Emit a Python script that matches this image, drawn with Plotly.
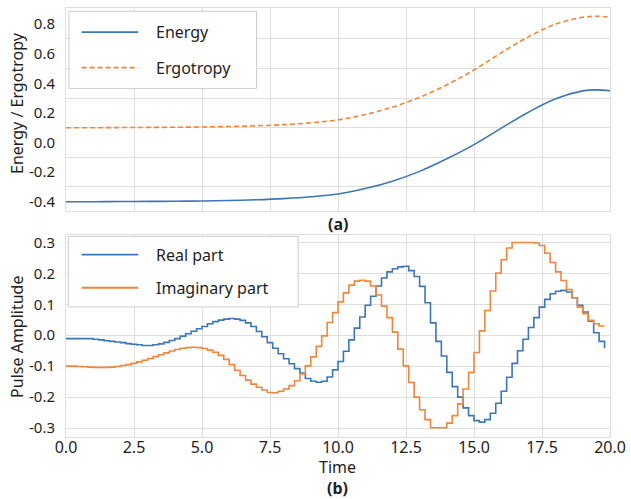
import plotly.graph_objects as go

# ---------------- data ----------------
time_top = [0, 1, 2, 3, 4, 5, 6, 7, 8, 9, 10, 11, 12, 13, 14, 15, 16, 17, 18, 19, 19.5, 20]
energy = [-0.400, -0.400, -0.399, -0.398, -0.397, -0.395, -0.392, -0.387, -0.379, -0.367, -0.348,
          -0.311, -0.261, -0.195, -0.110, -0.014, 0.097, 0.205, 0.296, 0.349, 0.356, 0.350]
ergotropy = [0.100, 0.100, 0.101, 0.102, 0.103, 0.105, 0.108, 0.113, 0.121, 0.133, 0.153,
             0.189, 0.239, 0.305, 0.390, 0.490, 0.606, 0.714, 0.800, 0.846, 0.853, 0.847]

time_pulse = [0.0, 0.2, 0.4, 0.6, 0.8, 1.0, 1.2, 1.4, 1.6, 1.8,
              2.0, 2.2, 2.4, 2.6, 2.8, 3.0, 3.2, 3.4, 3.6, 3.8,
              4.0, 4.2, 4.4, 4.6, 4.8, 5.0, 5.2, 5.4, 5.6, 5.8,
              6.0, 6.2, 6.4, 6.6, 6.8, 7.0, 7.2, 7.4, 7.6, 7.8,
              8.0, 8.2, 8.4, 8.6, 8.8, 9.0, 9.2, 9.4, 9.6, 9.8,
              10.0, 10.2, 10.4, 10.6, 10.8, 11.0, 11.2, 11.4, 11.6, 11.8,
              12.0, 12.2, 12.4, 12.6, 12.8, 13.0, 13.2, 13.4, 13.6, 13.8,
              14.0, 14.2, 14.4, 14.6, 14.8, 15.0, 15.2, 15.4, 15.6, 15.8,
              16.0, 16.2, 16.4, 16.6, 16.8, 17.0, 17.2, 17.4, 17.6, 17.8,
              18.0, 18.2, 18.4, 18.6, 18.8, 19.0, 19.2, 19.4, 19.6, 19.8]
real_part = [-0.011, -0.011, -0.011, -0.011, -0.011, -0.013, -0.015, -0.018, -0.020, -0.022,
             -0.024, -0.027, -0.029, -0.031, -0.033, -0.033, -0.031, -0.028, -0.023, -0.017,
             -0.011, -0.003, 0.005, 0.013, 0.021, 0.028, 0.037, 0.044, 0.049, 0.052,
             0.054, 0.052, 0.048, 0.040, 0.028, 0.012, -0.005, -0.024, -0.042, -0.060,
             -0.076, -0.092, -0.108, -0.122, -0.140, -0.149, -0.152, -0.149, -0.135, -0.112,
             -0.085, -0.052, -0.015, 0.023, 0.059, 0.097, 0.126, 0.159, 0.185, 0.205,
             0.215, 0.221, 0.223, 0.209, 0.190, 0.158, 0.105, 0.040, -0.020, -0.067,
             -0.120, -0.166, -0.200, -0.235, -0.260, -0.276, -0.281, -0.273, -0.252, -0.220,
             -0.181, -0.136, -0.091, -0.050, -0.013, 0.025, 0.057, 0.091, 0.116, 0.134,
             0.142, 0.145, 0.140, 0.121, 0.097, 0.075, 0.045, 0.008, -0.020, -0.042]
imag_part = [-0.100, -0.100, -0.101, -0.102, -0.103, -0.104, -0.104, -0.104, -0.103, -0.101,
             -0.098, -0.095, -0.091, -0.086, -0.081, -0.075, -0.069, -0.063, -0.057, -0.051,
             -0.046, -0.042, -0.040, -0.039, -0.040, -0.043, -0.048, -0.055, -0.065, -0.078,
             -0.095, -0.113, -0.130, -0.145, -0.158, -0.168, -0.177, -0.185, -0.186, -0.181,
             -0.174, -0.163, -0.147, -0.125, -0.099, -0.070, -0.036, -0.002, 0.041, 0.073,
             0.108, 0.137, 0.162, 0.175, 0.178, 0.175, 0.159, 0.130, 0.094, 0.057,
             0.010, -0.045, -0.099, -0.153, -0.200, -0.241, -0.273, -0.299, -0.299, -0.299,
             -0.284, -0.260, -0.222, -0.174, -0.120, -0.056, 0.014, 0.080, 0.143, 0.201,
             0.244, 0.282, 0.300, 0.300, 0.300, 0.300, 0.298, 0.290, 0.265, 0.235,
             0.205, 0.177, 0.148, 0.121, 0.091, 0.070, 0.048, 0.037, 0.030, 0.030]

x_tickvals = [0, 2.5, 5, 7.5, 10, 12.5, 15, 17.5, 20]
x_ticktext = ["0.0", "2.5", "5.0", "7.5", "10.0", "12.5", "15.0", "17.5", "20.0"]
top_tickvals = [-0.4, -0.2, 0.0, 0.2, 0.4, 0.6, 0.8]
top_ticktext = ["-0.4", "-0.2", "0.0", "0.2", "0.4", "0.6", "0.8"]
top_gridvals = [-0.3, -0.1, 0.1, 0.3, 0.5, 0.7]
bot_tickvals = [-0.3, -0.2, -0.1, 0.0, 0.1, 0.2, 0.3]
bot_ticktext = ["-0.3", "-0.2", "-0.1", "0.0", "0.1", "0.2", "0.3"]

BLUE = "#3b76b6"
ORANGE = "#f2853a"
GRID = "#dedede"
TXT = "#1e1e1e"
FONT = "Noto Sans"

# ---------------- layout geometry (px) ----------------
W, H = 631, 499
ML, MR, MT, MB = 66, 19, 5, 62
PW, PH = W - ML - MR, H - MT - MB


def fx(px):
    return (px - ML) / PW


def fy(py):
    return (H - MB - py) / PH


fig = go.Figure()
fig.add_trace(go.Scatter(x=time_top, y=energy, mode="lines", name="Energy",
                         line=dict(color=BLUE, width=1.6, shape="spline"),
                         xaxis="x", yaxis="y", showlegend=False))
fig.add_trace(go.Scatter(x=time_top, y=ergotropy, mode="lines", name="Ergotropy",
                         line=dict(color=ORANGE, width=1.6, shape="spline", dash="5px,3px"),
                         xaxis="x", yaxis="y", showlegend=False))
fig.add_trace(go.Scatter(x=time_pulse, y=real_part, mode="lines", name="Real part",
                         line=dict(color=BLUE, width=1.6, shape="hv"),
                         xaxis="x2", yaxis="y2", showlegend=False))
fig.add_trace(go.Scatter(x=time_pulse, y=imag_part, mode="lines", name="Imaginary part",
                         line=dict(color=ORANGE, width=1.6, shape="hv"),
                         xaxis="x2", yaxis="y2", showlegend=False))

top_dom = [fy(209.3), 1.0]
bot_dom = [0.0, fy(233.3)]

axis_common = dict(showline=True, linecolor=GRID, linewidth=1, mirror=True,
                   gridcolor=GRID, gridwidth=1, zeroline=False, ticks="")

fig.update_layout(
    width=W, height=H,
    margin=dict(l=ML, r=MR, t=MT, b=MB),
    paper_bgcolor="white", plot_bgcolor="white",
    font=dict(family=FONT, color=TXT),
    xaxis=dict(domain=[0, 1], anchor="y", range=[0, 20], tickvals=x_tickvals,
               showticklabels=False, **axis_common),
    yaxis=dict(domain=top_dom, anchor="x", range=[-0.462, 0.909],
               tickvals=top_tickvals, ticktext=top_ticktext, showgrid=False,
               tickfont=dict(size=15, color=TXT), ticklabelstandoff=7,
               minor=dict(tickvals=top_gridvals, showgrid=True, gridcolor=GRID,
                          gridwidth=1, ticks=""),
               **{k: v for k, v in axis_common.items() if k not in ("gridcolor", "gridwidth")}),
    xaxis2=dict(domain=[0, 1], anchor="y2", range=[0, 20], tickvals=x_tickvals,
                ticktext=x_ticktext, tickfont=dict(size=16, color=TXT),
                ticklabelstandoff=-4, **axis_common),
    yaxis2=dict(domain=bot_dom, anchor="x2", range=[-0.329, 0.325],
                tickvals=bot_tickvals, ticktext=bot_ticktext,
                tickfont=dict(size=15, color=TXT), ticklabelstandoff=7, **axis_common),
)

annotations = [
    dict(text="Energy / Ergotropy", x=fx(17.5), y=fy(101), textangle=-90,
         font=dict(size=16, color=TXT)),
    dict(text="Pulse Amplitude", x=fx(17.5), y=fy(336.5), textangle=-90,
         font=dict(size=16, color=TXT)),
    dict(text="<b>(a)</b>", x=fx(338.7), y=fy(223), font=dict(size=16, color=TXT)),
    dict(text="Time<br><b>(b)</b>", x=fx(338.7), y=fy(477.5), font=dict(size=16, color=TXT)),
]
for a in annotations:
    a.update(xref="paper", yref="paper", showarrow=False, xanchor="center", yanchor="middle")

shapes = []


def add_legend(box, rows):
    x0, y0, x1, y1 = box
    shapes.append(dict(type="rect", xref="paper", yref="paper",
                       x0=fx(x0), x1=fx(x1), y0=fy(y1), y1=fy(y0),
                       line=dict(color="#cccccc", width=1), fillcolor="white",
                       layer="above"))
    for (label, color, dash, yy) in rows:
        shapes.append(dict(type="line", xref="paper", yref="paper",
                           x0=fx(81.7), x1=fx(138.5), y0=fy(yy), y1=fy(yy),
                           line=dict(color=color, width=1.8, dash=dash), layer="above"))
        annotations.append(dict(text=label, xref="paper", yref="paper", showarrow=False,
                                x=fx(154), y=fy(yy), xanchor="left", yanchor="middle",
                                font=dict(size=16, color=TXT)))


add_legend((69, 8.3, 257.3, 86), [("Energy", BLUE, "solid", 29.3),
                                   ("Ergotropy", ORANGE, "5px,3px", 65.0)])
add_legend((68.3, 235, 299, 306), [("Real part", BLUE, "solid", 253.3),
                                    ("Imaginary part", ORANGE, "solid", 286.7)])

fig.update_layout(annotations=annotations, shapes=shapes)
fig.write_html("out.html", config={"displayModeBar": False},
               post_script="document.body.style.margin='0px';")
